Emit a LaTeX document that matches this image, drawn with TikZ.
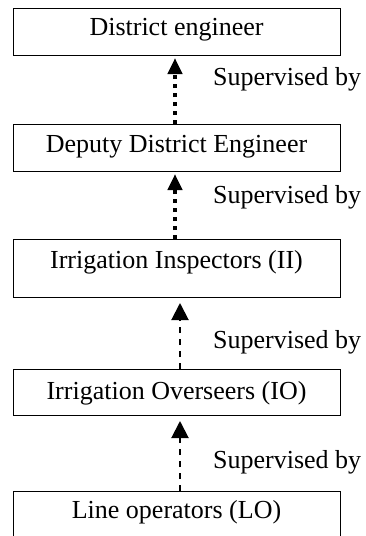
\documentclass[tikz,border=0pt]{standalone}
\usepackage{fontspec}
\setmainfont{Liberation Serif}
\usetikzlibrary{arrows.meta}
\tikzset{
  box/.style={draw, line width=1pt, anchor=north, inner sep=0pt, minimum width=327pt,
    font=\fontsize{26}{30}\selectfont},
  lbl/.style={anchor=base west, inner sep=0pt, font=\fontsize{26}{30}\selectfont},
  thickdot/.style={line width=4pt, dash pattern=on 4pt off 5pt,
    -{Triangle[length=16pt,width=14pt]}},
  thindash/.style={line width=2pt, dash pattern=on 6pt off 6pt,
    -{Triangle[length=17pt,width=17pt]}}
}
\begin{document}
\begin{tikzpicture}[x=1pt,y=1pt]
\useasboundingbox (0,0) rectangle (366,-536);
\node[box, text height=27pt, text depth=20pt] (b1) at (176.5,-8) {District engineer};
\node[box, text height=28pt, text depth=19pt] (b2) at (176.5,-124) {Deputy District Engineer};
\node[box, text height=29pt, text depth=29pt] (b3) at (176.5,-239) {Irrigation Inspectors (II)};
\node[box, text height=30pt, text depth=16pt] (b4) at (176.5,-369) {Irrigation Overseers (IO)};
\node[box, text height=27pt, text depth=55pt] (b5) at (176.5,-491) {Line operators (LO)};

\draw[thickdot] ([xshift=-1.5pt]b2.north) -- ([xshift=-1.5pt,yshift=-2pt]b1.south);
\draw[thickdot] ([xshift=-1.5pt]b3.north) -- ([xshift=-1.5pt,yshift=-2pt]b2.south);
\draw[thindash] ([xshift=3.5pt]b4.north) -- ([xshift=3.5pt,yshift=-5pt]b3.south);
\draw[thindash] ([xshift=3.5pt]b5.north) -- ([xshift=3.5pt,yshift=-5pt]b4.south);

\node[lbl] (l1) at (213,-85) {Supervised by};
\node[lbl] (l2) at (213,-203) {Supervised by};
\node[lbl] (l3) at (213,-348) {Supervised by};
\node[lbl] (l4) at (213,-468) {Supervised by};
\end{tikzpicture}
\end{document}
